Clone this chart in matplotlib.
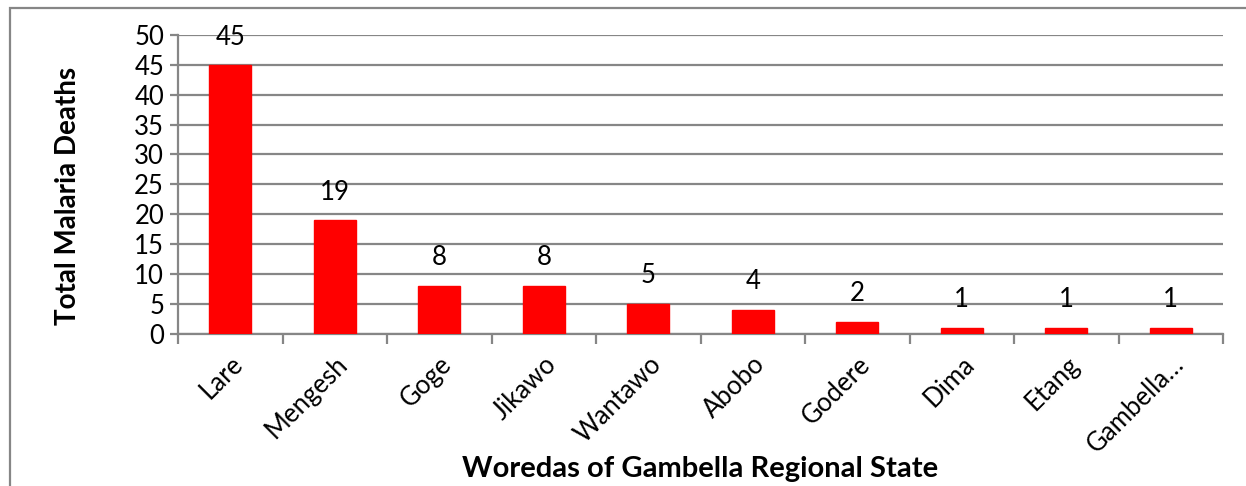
import matplotlib.pyplot as plt
from matplotlib.patches import Rectangle
import numpy as np

woredas = ["Lare", "Mengesh", "Goge", "Jikawo", "Wantawo", "Abobo",
           "Godere", "Dima", "Etang", "Gambella…"]
deaths = [45, 19, 8, 8, 5, 4, 2, 1, 1, 1]
y_ticks = [0, 5, 10, 15, 20, 25, 30, 35, 40, 45, 50]

plt.rcParams['font.family'] = ['Lato', 'DejaVu Sans']
grey = '#868686'

fig = plt.figure(figsize=(12.46, 4.86), dpi=100)
W, H = 1246, 486
ax = fig.add_axes([178 / W, 1 - 333.5 / H, (1223 - 178) / W, (333.5 - 35) / H])

x = np.arange(len(woredas))
ax.bar(x, deaths, width=0.4, color='#ff0000', edgecolor='#ff0000', zorder=3)
for xi, v in zip(x, deaths):
    ax.annotate(str(v), (xi, v), xytext=(0, 20), textcoords='offset points',
                ha='center', va='center', fontsize=18.5, color='black')

ax.set_xlim(-0.5, len(woredas) - 0.5)
ax.set_ylim(0, 50)
ax.set_yticks(y_ticks)
ax.set_yticklabels([str(t) for t in y_ticks], fontsize=18.5)
ax.yaxis.grid(True, color=grey, linewidth=1.6, zorder=0)
ax.tick_params(axis='y', length=6, width=1.6, color=grey, pad=4)

# category boundaries carry the tick marks, names sit at the centres
ax.set_xticks(np.arange(len(woredas) + 1) - 0.5)
ax.set_xticklabels([])
ax.tick_params(axis='x', length=7, width=1.6, color=grey)
ax.set_xticks(x, minor=True)
ax.set_xticklabels(woredas, minor=True, rotation=45, ha='right', va='top',
                   rotation_mode='anchor', fontsize=18.5)
ax.tick_params(axis='x', which='minor', length=0, pad=13)

for side in ['top', 'right']:
    ax.spines[side].set_visible(False)
for side in ['left', 'bottom']:
    ax.spines[side].set_color(grey)
    ax.spines[side].set_linewidth(1.6)

fig.text(68 / W, 1 - 196 / H, "Total Malaria Deaths", rotation=90,
         ha='center', va='center', fontsize=20, fontweight='bold')
fig.text(700 / W, 1 - 469 / H, "Woredas of Gambella Regional State",
         ha='center', va='center', fontsize=21, fontweight='bold')

# outer chart frame
fig.patches.append(Rectangle((10 / W, -0.1), 1.2, 1 - 8 / H + 0.1,
                             transform=fig.transFigure, fill=False,
                             edgecolor=grey, linewidth=1.6))

fig.savefig("out.png", dpi=100)
